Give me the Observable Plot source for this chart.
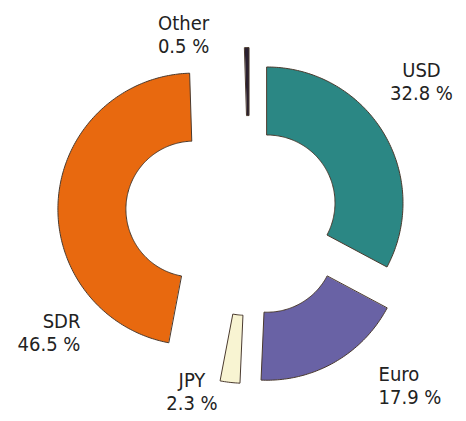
<!DOCTYPE html>
<html><head><meta charset="utf-8">
<script src="https://cdn.jsdelivr.net/npm/d3@7"></script>
<script src="https://cdn.jsdelivr.net/npm/@observablehq/plot@0.6"></script>
<style>
body{margin:0;background:#fff}
#chart svg{display:block}
</style>
</head><body><div id="chart"></div>
<script>
// ---- data ----
const categories = ["USD", "Euro", "JPY", "SDR", "Other"];
const shares = [32.8, 17.9, 2.3, 46.5, 0.5];
const unitLabel = " %";

// ---- style / layout ----
const palette = ["#2b8784", "#6962a5", "#f8f4d2", "#e8690f", "#2a2030"];
const explode = {USD: 0.15, Euro: 0.26, JPY: 0.25, SDR: 0.41, Other: 0.22};
const labelPlace = {
  USD:   {deg: 52.5,  rad: 1.594, anchor: "middle"},
  Euro:  {deg: 143.1, rad: 1.581, anchor: "start"},
  JPY:   {deg: 198,   rad: 1.37,  anchor: "middle"},
  SDR:   {deg: 234.85, rad: 1.52, anchor: "end"},
  Other: {deg: 339.8, rad: 1.403, anchor: "middle"}
};
const outerR = 1, innerR = 0.5;
const W = 466, H = 421, unit = 136, cxPx = 249, cyPx = 213;

// ---- geometry from the data ----
const arcs = d3.pie().sort(null)(shares);
const polys = [];
arcs.forEach((a, i) => {
  const name = categories[i];
  const mid = (a.startAngle + a.endAngle) / 2;
  const ox = explode[name] * Math.sin(mid), oy = explode[name] * Math.cos(mid);
  const n = Math.max(2, Math.ceil((a.endAngle - a.startAngle) / (Math.PI / 180)));
  for (let k = 0; k <= n; k++) {
    const t = a.startAngle + (a.endAngle - a.startAngle) * k / n;
    polys.push({name, x: ox + outerR * Math.sin(t), y: oy + outerR * Math.cos(t)});
  }
  for (let k = n; k >= 0; k--) {
    const t = a.startAngle + (a.endAngle - a.startAngle) * k / n;
    polys.push({name, x: ox + innerR * Math.sin(t), y: oy + innerR * Math.cos(t)});
  }
});
const labels = categories.map((name, i) => {
  const p = labelPlace[name], t = p.deg * Math.PI / 180;
  return {name, text: `${name}\n${shares[i]}${unitLabel}`, x: p.rad * Math.sin(t), y: p.rad * Math.cos(t), anchor: p.anchor};
});

const chart = Plot.plot({
  width: W, height: H, margin: 0,
  x: {domain: [-cxPx / unit, (W - cxPx) / unit], axis: null},
  y: {domain: [-(H - cyPx) / unit, cyPx / unit], axis: null},
  color: {domain: categories, range: palette},
  style: {background: "#fff"},
  marks: [
    Plot.line(polys, {x: "x", y: "y", z: "name", fill: "name", stroke: "#4a3a2e", strokeWidth: 1, curve: "linear-closed"}),
    ...["start", "middle", "end"].map(anc => Plot.text(labels.filter(d => d.anchor === anc), {
      x: "x", y: "y", text: "text", textAnchor: anc, lineAnchor: "middle", lineHeight: 1.15,
      fontSize: 20, fill: "#222",
      fontFamily: "'Liberation Sans Narrow', 'Arial Narrow', 'DejaVu Sans Condensed', sans-serif"
    }))
  ]
});
document.getElementById("chart").append(chart);
</script>
</body></html>
